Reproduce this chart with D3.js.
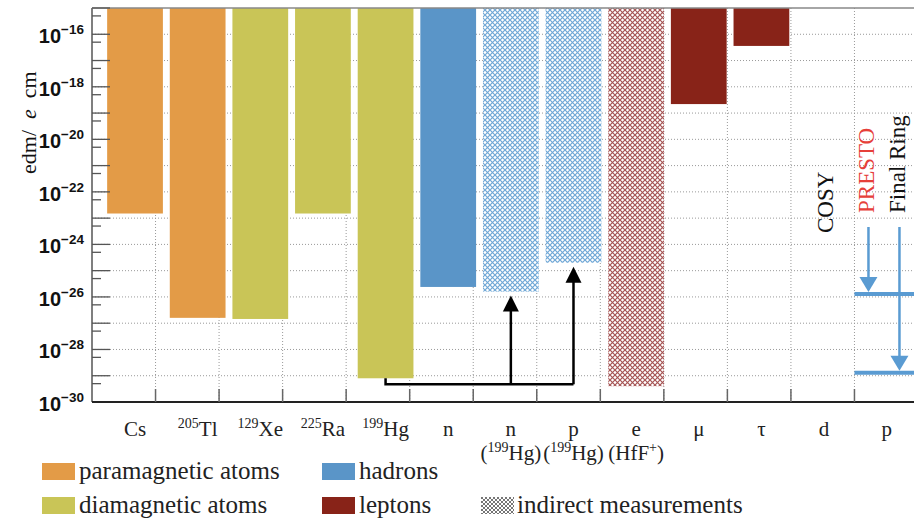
<!DOCTYPE html>
<html>
<head>
<meta charset="utf-8">
<script src="https://cdn.jsdelivr.net/npm/d3@7"></script>
<style>
  body { margin: 0; background: #fff; }
  svg { display: block; }
</style>
</head>
<body>
<div id="chart"></div>
<script>
// categories along the x axis
const categories = ["Cs", "Tl", "Xe", "Ra", "Hg", "n", "n_Hg", "p_Hg", "e", "mu", "tau", "d", "p"];
const labels = ["Cs", "Tl", "Xe", "Ra", "Hg", "n", "n", "p", "e", "\u03bc", "\u03c4", "d", "p"];
const isotopes = ["", "205", "129", "225", "199", "", "", "", "", "", "", "", ""];
// second label line: source of indirect limit
const sourceIso = ["", "", "", "", "", "", "199", "199", "", "", "", "", ""];
const sourceName = ["", "", "", "", "", "", "Hg", "Hg", "HfF", "", "", "", ""];
const sourceCharge = ["", "", "", "", "", "", "", "", "+", "", "", "", ""];

// edm upper limits in e cm (null = no bar)
const limits = [1.5e-23, 1.6e-27, 1.45e-27, 1.5e-23, 8e-30, 2.4e-26, 1.6e-26, 2.0e-25, 4e-30, 2.2e-19, 3.6e-17, null, null];
const groups = ["para", "para", "dia", "dia", "dia", "hadron", "hadron", "hadron", "lepton", "lepton", "lepton", null, null];
const indirect = [false, false, false, false, false, false, true, true, true, false, false, false, false];

// storage ring goals for the proton
const goalNames = ["PRESTO", "Final Ring"];
const goalValues = [1.3e-26, 1.3e-29];

const yLabelExps = [-30, -28, -26, -24, -22, -20, -18, -16];

const groupNames = ["para", "dia", "hadron", "lepton"];
const groupLabels = ["paramagnetic atoms", "diamagnetic atoms", "hadrons", "leptons"];
const groupColors = ["#e39b47", "#c9c557", "#5a95c8", "#882318"];

const width = 914, height = 520;
const margin = { top: 8, left: 92, bottom: 402, right: 918 };
const serif = "'Liberation Serif', 'Times New Roman', serif";
const sans = "'Liberation Sans', Arial, sans-serif";

const svg = d3.select("#chart")
  .append("svg")
  .attr("width", width)
  .attr("height", height);

const defs = svg.append("defs");
function hatch(id, color, size, sw) {
  const p = defs.append("pattern")
    .attr("id", id)
    .attr("patternUnits", "userSpaceOnUse")
    .attr("width", size)
    .attr("height", size);
  p.append("rect").attr("width", size).attr("height", size).attr("fill", "#fff");
  p.append("path")
    .attr("d", `M-1,-1L${size + 1},${size + 1}M${size + 1},-1L-1,${size + 1}`)
    .attr("stroke", color)
    .attr("stroke-width", sw)
    .attr("fill", "none");
}
hatch("hatch-blue", "#6fa7d6", 5, 1.2);
hatch("hatch-red", "#a65454", 5, 1.2);
hatch("hatch-grey", "#666", 4, 0.9);

const y = d3.scaleLog()
  .domain([1e-30, 1e-15])
  .range([margin.bottom, margin.top]);

// bin edges (ticks & grid)
const xBin = d3.scaleBand()
  .domain(categories)
  .range([margin.left, margin.right]);

// bar / label positions
const x = d3.scaleBand()
  .domain(categories)
  .range([103.7, 918])
  .paddingInner(0.11)
  .paddingOuter(0.055);

const cx = c => x(c) + x.bandwidth() / 2;

// grid
const decades = d3.range(-29, -15).map(e => Math.pow(10, e));
svg.append("g")
  .selectAll("line")
  .data(decades)
  .enter()
  .append("line")
  .attr("x1", margin.left)
  .attr("x2", margin.right)
  .attr("y1", d => y(d))
  .attr("y2", d => y(d))
  .attr("stroke", "#999")
  .attr("stroke-width", 1)
  .attr("stroke-dasharray", "1,2");

svg.append("g")
  .selectAll("line")
  .data(categories.slice(1))
  .enter()
  .append("line")
  .attr("x1", d => xBin(d))
  .attr("x2", d => xBin(d))
  .attr("y1", margin.top)
  .attr("y2", margin.bottom)
  .attr("stroke", "#999")
  .attr("stroke-width", 1)
  .attr("stroke-dasharray", "1,2");

// bars
const barData = categories.map((c, i) => ({ c, v: limits[i], g: groups[i], ind: indirect[i] }))
  .filter(d => d.v !== null);

svg.append("g")
  .selectAll("rect")
  .data(barData)
  .enter()
  .append("rect")
  .attr("x", d => x(d.c))
  .attr("y", y(1e-15))
  .attr("width", x.bandwidth())
  .attr("height", d => y(d.v) - y(1e-15))
  .attr("fill", d => {
    if (d.ind) return d.g === "lepton" ? "url(#hatch-red)" : "url(#hatch-blue)";
    return groupColors[groupNames.indexOf(d.g)];
  });

// axes
const yAxis = svg.append("g");
yAxis.append("line")
  .attr("x1", margin.left).attr("x2", margin.left)
  .attr("y1", margin.top).attr("y2", margin.bottom)
  .attr("stroke", "#555").attr("stroke-width", 1.5);
yAxis.append("line")
  .attr("x1", margin.left).attr("x2", width)
  .attr("y1", margin.top).attr("y2", margin.top)
  .attr("stroke", "#888").attr("stroke-width", 1.5);

const majors = d3.range(-30, -14).map(e => Math.pow(10, e));
const minors = d3.range(-30, -15).map(e => 5 * Math.pow(10, e));
yAxis.selectAll(".major")
  .data(majors)
  .enter()
  .append("line")
  .attr("x1", margin.left).attr("x2", margin.left + 18)
  .attr("y1", d => y(d)).attr("y2", d => y(d))
  .attr("stroke", "#555").attr("stroke-width", 1.3);
yAxis.selectAll(".minor")
  .data(minors)
  .enter()
  .append("line")
  .attr("x1", margin.left).attr("x2", margin.left + 9)
  .attr("y1", d => y(d)).attr("y2", d => y(d))
  .attr("stroke", "#555").attr("stroke-width", 1.3);

const yLab = yAxis.selectAll(".ylab")
  .data(yLabelExps)
  .enter()
  .append("text")
  .attr("x", 84)
  .attr("y", d => y(Math.pow(10, d)) + 9)
  .attr("text-anchor", "end")
  .attr("font-family", sans)
  .style("font-weight", "bold")
  .style("font-size", "20px")
  .attr("fill", "#111");
yLab.append("tspan").text("10");
yLab.append("tspan")
  .attr("dy", -9)
  .style("font-size", "13.5px")
  .text(d => "\u2212" + Math.abs(d));

svg.append("text")
  .attr("transform", "translate(36,174) rotate(-90)")
  .attr("font-family", serif)
  .style("font-size", "22px")
  .attr("fill", "#111")
  .call(t => {
    t.append("tspan").text("edm/");
    t.append("tspan").attr("dx", 11).style("font-style", "italic").text("e");
    t.append("tspan").attr("dx", 11).text("cm");
  });

// bottom axis
svg.append("line")
  .attr("x1", margin.left).attr("x2", width)
  .attr("y1", margin.bottom).attr("y2", margin.bottom)
  .attr("stroke", "#222").attr("stroke-width", 2);
svg.append("g")
  .selectAll("line")
  .data(categories.slice(1))
  .enter()
  .append("line")
  .attr("x1", d => xBin(d)).attr("x2", d => xBin(d))
  .attr("y1", margin.bottom).attr("y2", margin.bottom - 13)
  .attr("stroke", "#666").attr("stroke-width", 1.5);

// x labels
const xLab = svg.append("g")
  .selectAll("text")
  .data(categories)
  .enter()
  .append("text")
  .attr("x", d => cx(d))
  .attr("y", 436)
  .attr("text-anchor", "middle")
  .attr("font-family", serif)
  .style("font-size", "21px")
  .attr("fill", "#222");
xLab.each(function(d, i) {
  const t = d3.select(this);
  if (isotopes[i]) {
    t.append("tspan").attr("dy", -8).style("font-size", "14px").text(isotopes[i]);
    t.append("tspan").attr("dy", 8).text(labels[i]);
  } else {
    t.text(labels[i]);
  }
});

svg.append("g")
  .selectAll("text")
  .data(categories.filter((c, i) => sourceName[i]))
  .enter()
  .append("text")
  .attr("x", d => cx(d))
  .attr("y", 460)
  .attr("text-anchor", "middle")
  .attr("font-family", serif)
  .style("font-size", "21px")
  .attr("fill", "#222")
  .each(function(d) {
    const i = categories.indexOf(d);
    const t = d3.select(this);
    t.append("tspan").text("(");
    if (sourceIso[i]) {
      t.append("tspan").attr("dy", -8).style("font-size", "14px").text(sourceIso[i]);
      t.append("tspan").attr("dy", 8).text(sourceName[i]);
    } else {
      t.append("tspan").text(sourceName[i]);
    }
    if (sourceCharge[i]) {
      t.append("tspan").attr("dy", -8).style("font-size", "14px").text(sourceCharge[i]);
      t.append("tspan").attr("dy", 8).text(")");
    } else {
      t.append("tspan").text(")");
    }
  });

// arrows from 199Hg to indirect nucleon limits
const hgIdx = categories.indexOf("Hg");
const arrowTargets = ["n_Hg", "p_Hg"];
const baseY = y(limits[hgIdx]) + 6;
svg.append("path")
  .attr("d", `M${cx("Hg")},${y(limits[hgIdx])}V${baseY}H${cx("p_Hg")}`)
  .attr("fill", "none")
  .attr("stroke", "#000")
  .attr("stroke-width", 2.5);
arrowTargets.forEach(c => {
  const tip = y(limits[categories.indexOf(c)]) + 4;
  svg.append("line")
    .attr("x1", cx(c)).attr("x2", cx(c))
    .attr("y1", baseY).attr("y2", tip + 12)
    .attr("stroke", "#000").attr("stroke-width", 2.5);
  svg.append("path")
    .attr("d", `M${cx(c)},${tip}L${cx(c) - 8},${tip + 16}L${cx(c) + 8},${tip + 16}Z`)
    .attr("fill", "#000");
});

// COSY label on deuteron
svg.append("text")
  .attr("transform", `translate(${cx("d") + 9},233) rotate(-90)`)
  .attr("font-family", serif)
  .style("font-size", "23px")
  .attr("fill", "#111")
  .text("COSY");

// proton storage ring goals
const goalX = [xBin("p") + 14, xBin("p") + 45];
const goalColors = ["#e6403a", "#111"];
const blue = "#5a9bd2";
goalNames.forEach((name, i) => {
  const gy = y(goalValues[i]);
  svg.append("text")
    .attr("transform", `translate(${goalX[i] + 6},213) rotate(-90)`)
    .attr("font-family", serif)
    .style("font-size", "23px")
    .attr("fill", goalColors[i])
    .text(name);
  svg.append("line")
    .attr("x1", xBin("p")).attr("x2", width)
    .attr("y1", gy).attr("y2", gy)
    .attr("stroke", blue).attr("stroke-width", 4);
  svg.append("line")
    .attr("x1", goalX[i]).attr("x2", goalX[i])
    .attr("y1", 227).attr("y2", gy - 14)
    .attr("stroke", blue).attr("stroke-width", 2.5);
  svg.append("path")
    .attr("d", `M${goalX[i]},${gy - 2}L${goalX[i] - 9},${gy - 17}L${goalX[i] + 9},${gy - 17}Z`)
    .attr("fill", blue);
});

// legend
const legendX = [42, 322, 42, 322];
const legendY = [463, 463, 497, 497];
const legendOrder = [0, 2, 1, 3];
const legend = svg.append("g")
  .attr("font-family", serif);
legendOrder.forEach((gi, k) => {
  legend.append("rect")
    .attr("x", legendX[k]).attr("y", legendY[k])
    .attr("width", 33).attr("height", 17)
    .attr("fill", groupColors[gi]);
  legend.append("text")
    .attr("x", legendX[k] + 37).attr("y", legendY[k] + 16)
    .attr("font-family", serif)
    .style("font-size", "25px")
    .attr("fill", "#222")
    .text(groupLabels[gi]);
});
legend.append("rect")
  .attr("x", 481).attr("y", 497)
  .attr("width", 33).attr("height", 17)
  .attr("fill", "url(#hatch-grey)");
legend.append("text")
  .attr("x", 517).attr("y", 513)
  .attr("font-family", serif)
  .style("font-size", "25px")
  .attr("fill", "#222")
  .text("indirect measurements");
</script>
</body>
</html>
